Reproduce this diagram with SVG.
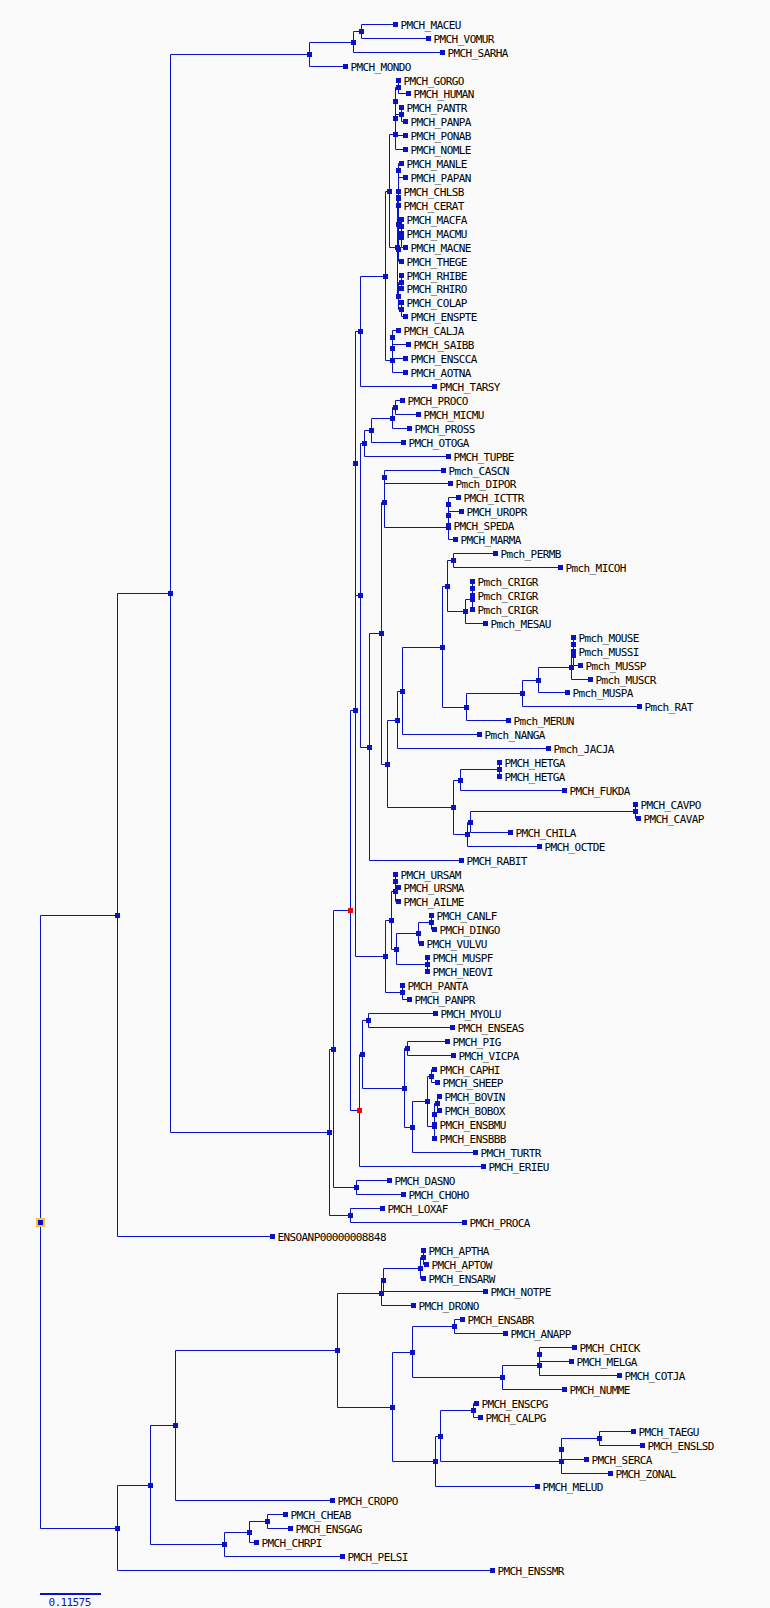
<svg xmlns="http://www.w3.org/2000/svg" xmlns:xlink="http://www.w3.org/1999/xlink" width="770" height="1608" viewBox="0 0 770 1608">
<style>
.c{fill:none;stroke:#0a12c8;stroke-width:1}
.t{font-family:"DejaVu Sans Mono","Liberation Mono",monospace;font-size:11px;letter-spacing:-0.6px;fill:#000}
.s{font-family:"DejaVu Sans Mono","Liberation Mono",monospace;font-size:11px;letter-spacing:-0.6px;fill:#0a12c8}
</style>
<defs>
<rect id="m" x="-2.5" y="-2.5" width="5" height="5" fill="#0a12c8"/>
<rect id="mr" x="-2.5" y="-2.5" width="5" height="5" fill="#ff0000"/>
</defs>
<rect x="0" y="0" width="770" height="1608" fill="#fafafa"/>
<g id="connectors" class="c">
<path d="M395.5 24.5H361.5V38.5H428.5M361.5 31.5H353.5V52.5H442.5M353.5 42.5H309.5V66.5H345.5"/>
<path d="M398.5 80.5V93.5H408.5M401.5 107.5V121.5H405.5M398.5 87.5H395.5V114.5H401.5M395.5 101.5V135.5H405.5M395.5 118.5V149.5H405.5"/>
<path d="M401.5 163.5H398.5V177.5H405.5M398.5 191.5V205.5M401.5 219.5V233.5M401.5 226.5V247.5H405.5M401.5 237.5H398.5V261.5H401.5M398.5 198.5V249.5M398.5 170.5V224.5"/>
<path d="M401.5 275.5V288.5M401.5 302.5V316.5H405.5M401.5 282.5H398.5V309.5H401.5M398.5 197.5H397.5V296.5H398.5M395.5 134.5H389.5V247.5H397.5"/>
<path d="M398.5 330.5H392.5V344.5H408.5M392.5 337.5V358.5H405.5M392.5 348.5V372.5H405.5M389.5 191.5H385.5V360.5H392.5M385.5 276.5H360.5V386.5H434.5"/>
<path d="M402.5 400.5H395.5V414.5H418.5M395.5 407.5H392.5V428.5H409.5M392.5 418.5H371.5V442.5H403.5M371.5 430.5H364.5V456.5H448.5"/>
<path d="M443.5 470.5H384.5V483.5H450.5M458.5 497.5H448.5V511.5H461.5M448.5 504.5V525.5M448.5 515.5V539.5H455.5M384.5 477.5V527.5H448.5"/>
<path d="M495.5 553.5H453.5V567.5H560.5M472.5 581.5V595.5M472.5 588.5V609.5M472.5 599.5H465.5V623.5H485.5M453.5 560.5H447.5V611.5H465.5"/>
<path d="M573.5 637.5V651.5M573.5 644.5V665.5H580.5M573.5 655.5H571.5V679.5H590.5M571.5 667.5H538.5V692.5H567.5M538.5 680.5H522.5V706.5H639.5M522.5 693.5H466.5V720.5H508.5"/>
<path d="M447.5 586.5H442.5V707.5H466.5M442.5 647.5H402.5V734.5H479.5M402.5 691.5H397.5V748.5H548.5"/>
<path d="M499.5 762.5V776.5M499.5 769.5H460.5V790.5H564.5M635.5 804.5V818.5H638.5M635.5 811.5H470.5V832.5H510.5M470.5 822.5H467.5V846.5H539.5M460.5 780.5H453.5V834.5H467.5"/>
<path d="M397.5 720.5H387.5V807.5H453.5M384.5 502.5H381.5V764.5H387.5M381.5 633.5H369.5V860.5H461.5M364.5 443.5H360.5V747.5H369.5M360.5 331.5H355.5V595.5H360.5"/>
<path d="M395.5 874.5V887.5H398.5M395.5 881.5V901.5H398.5M431.5 915.5V929.5H434.5M431.5 922.5H418.5V943.5H421.5M427.5 957.5V971.5M418.5 933.5H396.5V964.5H427.5M395.5 891.5H391.5V949.5H396.5M402.5 985.5V999.5H409.5M391.5 920.5H385.5V992.5H402.5M355.5 463.5V956.5H385.5"/>
<path d="M435.5 1013.5H368.5V1027.5H452.5M447.5 1041.5H407.5V1055.5H453.5M434.5 1069.5H431.5V1082.5H437.5M439.5 1096.5H437.5V1110.5H439.5M437.5 1103.5H434.5V1124.5M434.5 1114.5V1138.5M431.5 1076.5H427.5V1126.5H434.5M427.5 1101.5H412.5V1152.5H475.5M407.5 1048.5H404.5V1127.5H412.5M368.5 1020.5H362.5V1088.5H404.5M362.5 1054.5H359.5V1166.5H483.5M355.5 710.5H350.5V1110.5H359.5"/>
<path d="M389.5 1180.5H356.5V1194.5H403.5M350.5 910.5H333.5V1187.5H356.5M382.5 1208.5H350.5V1222.5H464.5M333.5 1049.5H329.5V1215.5H350.5M309.5 54.5H170.5V1132.5H329.5M170.5 593.5H117.5V1236.5H272.5"/>
<path d="M423.5 1250.5V1264.5H426.5M423.5 1257.5H420.5V1278.5H423.5M420.5 1268.5H383.5V1291.5H485.5M383.5 1280.5H381.5V1305.5H413.5"/>
<path d="M462.5 1319.5H454.5V1333.5H505.5M574.5 1347.5H539.5V1361.5H571.5M539.5 1354.5V1375.5H619.5M539.5 1365.5H502.5V1389.5H564.5M454.5 1326.5H412.5V1377.5H502.5"/>
<path d="M476.5 1403.5H473.5V1417.5H480.5M633.5 1431.5H599.5V1445.5H642.5M599.5 1438.5H561.5V1459.5H586.5M561.5 1449.5V1473.5H610.5M473.5 1410.5H440.5V1461.5H561.5M440.5 1436.5H435.5V1486.5H537.5M412.5 1352.5H392.5V1461.5H435.5M381.5 1293.5H337.5V1407.5H392.5M337.5 1350.5H175.5V1500.5H332.5"/>
<path d="M285.5 1514.5H267.5V1528.5H290.5M267.5 1521.5H249.5V1542.5H256.5M249.5 1532.5H224.5V1556.5H342.5M175.5 1425.5H150.5V1544.5H224.5M150.5 1485.5H117.5V1570.5H492.5M117.5 915.5H40.5V1528.5H117.5"/>
</g>
<g id="internal-nodes">
<g id="node-A"><use href="#m" x="361.5" y="31.5"/></g>
<g id="node-B"><use href="#m" x="353.5" y="42.5"/></g>
<g id="node-C"><use href="#m" x="309.5" y="54.5"/></g>
<g id="node-P1"><use href="#m" x="398.5" y="87.5"/></g>
<g id="node-P2"><use href="#m" x="401.5" y="114.5"/></g>
<g id="node-P3"><use href="#m" x="395.5" y="101.5"/></g>
<g id="node-P4"><use href="#m" x="395.5" y="118.5"/></g>
<g id="node-P5"><use href="#m" x="395.5" y="134.5"/></g>
<g id="node-n1"><use href="#m" x="398.5" y="170.5"/></g>
<g id="node-n2"><use href="#m" x="398.5" y="198.5"/></g>
<g id="node-n3"><use href="#m" x="401.5" y="226.5"/></g>
<g id="node-n4"><use href="#m" x="401.5" y="237.5"/></g>
<g id="node-n5"><use href="#m" x="398.5" y="249.5"/></g>
<g id="node-n6"><use href="#m" x="398.5" y="224.5"/></g>
<g id="node-n7"><use href="#m" x="398.5" y="197.5"/></g>
<g id="node-c1"><use href="#m" x="401.5" y="282.5"/></g>
<g id="node-c2"><use href="#m" x="401.5" y="309.5"/></g>
<g id="node-c3"><use href="#m" x="398.5" y="296.5"/></g>
<g id="node-owm"><use href="#m" x="397.5" y="247.5"/></g>
<g id="node-catarr"><use href="#m" x="389.5" y="191.5"/></g>
<g id="node-pl1"><use href="#m" x="392.5" y="337.5"/></g>
<g id="node-pl2"><use href="#m" x="392.5" y="348.5"/></g>
<g id="node-pl3"><use href="#m" x="392.5" y="360.5"/></g>
<g id="node-anth"><use href="#m" x="385.5" y="276.5"/></g>
<g id="node-hapl"><use href="#m" x="360.5" y="331.5"/></g>
<g id="node-s1"><use href="#m" x="395.5" y="407.5"/></g>
<g id="node-s2"><use href="#m" x="392.5" y="418.5"/></g>
<g id="node-s3"><use href="#m" x="371.5" y="430.5"/></g>
<g id="node-s4"><use href="#m" x="364.5" y="443.5"/></g>
<g id="node-r1"><use href="#m" x="384.5" y="477.5"/></g>
<g id="node-sq1"><use href="#m" x="448.5" y="504.5"/></g>
<g id="node-sq2"><use href="#m" x="448.5" y="515.5"/></g>
<g id="node-sq3"><use href="#m" x="448.5" y="527.5"/></g>
<g id="node-r2"><use href="#m" x="384.5" y="502.5"/></g>
<g id="node-m1"><use href="#m" x="453.5" y="560.5"/></g>
<g id="node-cr1"><use href="#m" x="472.5" y="588.5"/></g>
<g id="node-cr2"><use href="#m" x="472.5" y="599.5"/></g>
<g id="node-cr3"><use href="#m" x="465.5" y="611.5"/></g>
<g id="node-m2"><use href="#m" x="447.5" y="586.5"/></g>
<g id="node-mu1"><use href="#m" x="573.5" y="644.5"/></g>
<g id="node-mu2"><use href="#m" x="573.5" y="655.5"/></g>
<g id="node-mu3"><use href="#m" x="571.5" y="667.5"/></g>
<g id="node-mu4"><use href="#m" x="538.5" y="680.5"/></g>
<g id="node-mu5"><use href="#m" x="522.5" y="693.5"/></g>
<g id="node-mu6"><use href="#m" x="466.5" y="707.5"/></g>
<g id="node-m3"><use href="#m" x="442.5" y="647.5"/></g>
<g id="node-m4"><use href="#m" x="402.5" y="691.5"/></g>
<g id="node-m5"><use href="#m" x="397.5" y="720.5"/></g>
<g id="node-h1"><use href="#m" x="499.5" y="769.5"/></g>
<g id="node-h2"><use href="#m" x="460.5" y="780.5"/></g>
<g id="node-cv"><use href="#m" x="635.5" y="811.5"/></g>
<g id="node-h3"><use href="#m" x="470.5" y="822.5"/></g>
<g id="node-h4"><use href="#m" x="467.5" y="834.5"/></g>
<g id="node-h5"><use href="#m" x="453.5" y="807.5"/></g>
<g id="node-ro1"><use href="#m" x="387.5" y="764.5"/></g>
<g id="node-ro2"><use href="#m" x="381.5" y="633.5"/></g>
<g id="node-glires"><use href="#m" x="369.5" y="747.5"/></g>
<g id="node-euarch"><use href="#m" x="360.5" y="595.5"/></g>
<g id="node-eg"><use href="#m" x="355.5" y="463.5"/></g>
<g id="node-ca1"><use href="#m" x="395.5" y="881.5"/></g>
<g id="node-ca2"><use href="#m" x="395.5" y="891.5"/></g>
<g id="node-ca3"><use href="#m" x="431.5" y="922.5"/></g>
<g id="node-ca4"><use href="#m" x="418.5" y="933.5"/></g>
<g id="node-ca5"><use href="#m" x="427.5" y="964.5"/></g>
<g id="node-ca6"><use href="#m" x="396.5" y="949.5"/></g>
<g id="node-ca7"><use href="#m" x="391.5" y="920.5"/></g>
<g id="node-pa"><use href="#m" x="402.5" y="992.5"/></g>
<g id="node-ferae"><use href="#m" x="385.5" y="956.5"/></g>
<g id="node-E"><use href="#m" x="355.5" y="710.5"/></g>
<g id="node-l1"><use href="#m" x="368.5" y="1020.5"/></g>
<g id="node-l2"><use href="#m" x="407.5" y="1048.5"/></g>
<g id="node-b1"><use href="#m" x="431.5" y="1076.5"/></g>
<g id="node-b2"><use href="#m" x="437.5" y="1103.5"/></g>
<g id="node-b3"><use href="#m" x="434.5" y="1114.5"/></g>
<g id="node-b4"><use href="#m" x="434.5" y="1126.5"/></g>
<g id="node-b5"><use href="#m" x="427.5" y="1101.5"/></g>
<g id="node-ce"><use href="#m" x="412.5" y="1127.5"/></g>
<g id="node-l3"><use href="#m" x="404.5" y="1088.5"/></g>
<g id="node-l4"><use href="#m" x="362.5" y="1054.5"/></g>
<g id="node-R2"><use href="#mr" x="359.5" y="1110.5"/></g>
<g id="node-R1"><use href="#mr" x="350.5" y="910.5"/></g>
<g id="node-xe"><use href="#m" x="356.5" y="1187.5"/></g>
<g id="node-N"><use href="#m" x="333.5" y="1049.5"/></g>
<g id="node-af"><use href="#m" x="350.5" y="1215.5"/></g>
<g id="node-M"><use href="#m" x="329.5" y="1132.5"/></g>
<g id="node-Th"><use href="#m" x="170.5" y="593.5"/></g>
<g id="node-X"><use href="#m" x="117.5" y="915.5"/></g>
<g id="node-ap1"><use href="#m" x="423.5" y="1257.5"/></g>
<g id="node-ap2"><use href="#m" x="420.5" y="1268.5"/></g>
<g id="node-P"><use href="#m" x="383.5" y="1280.5"/></g>
<g id="node-Q"><use href="#m" x="381.5" y="1293.5"/></g>
<g id="node-an1"><use href="#m" x="454.5" y="1326.5"/></g>
<g id="node-g1"><use href="#m" x="539.5" y="1354.5"/></g>
<g id="node-g2"><use href="#m" x="539.5" y="1365.5"/></g>
<g id="node-g3"><use href="#m" x="502.5" y="1377.5"/></g>
<g id="node-ga"><use href="#m" x="412.5" y="1352.5"/></g>
<g id="node-ps1"><use href="#m" x="473.5" y="1410.5"/></g>
<g id="node-pa1"><use href="#m" x="599.5" y="1438.5"/></g>
<g id="node-pa2"><use href="#m" x="561.5" y="1449.5"/></g>
<g id="node-pa3"><use href="#m" x="561.5" y="1461.5"/></g>
<g id="node-ne1"><use href="#m" x="440.5" y="1436.5"/></g>
<g id="node-ne2"><use href="#m" x="435.5" y="1461.5"/></g>
<g id="node-nb"><use href="#m" x="392.5" y="1407.5"/></g>
<g id="node-neo"><use href="#m" x="337.5" y="1350.5"/></g>
<g id="node-av"><use href="#m" x="175.5" y="1425.5"/></g>
<g id="node-t1"><use href="#m" x="267.5" y="1521.5"/></g>
<g id="node-t2"><use href="#m" x="249.5" y="1532.5"/></g>
<g id="node-t3"><use href="#m" x="224.5" y="1544.5"/></g>
<g id="node-sa"><use href="#m" x="150.5" y="1485.5"/></g>
<g id="node-Y"><use href="#m" x="117.5" y="1528.5"/></g>
<g id="node-root"><rect x="36" y="1218" width="9" height="9" fill="#eec54a"/><use href="#m" x="40.5" y="1222.5"/></g>
</g>
<g id="leaves" class="t">
<g id="leaf00"><use href="#m" x="395.5" y="24.5"/><text x="400.5" y="29">PMCH_MACEU</text></g>
<g id="leaf01"><use href="#m" x="428.5" y="38.5"/><text x="433.5" y="43">PMCH_VOMUR</text></g>
<g id="leaf02"><use href="#m" x="442.5" y="52.5"/><text x="447.5" y="57">PMCH_SARHA</text></g>
<g id="leaf03"><use href="#m" x="345.5" y="66.5"/><text x="350.5" y="71">PMCH_MONDO</text></g>
<g id="leaf04"><use href="#m" x="398.5" y="80.5"/><text x="403.5" y="85">PMCH_GORGO</text></g>
<g id="leaf05"><use href="#m" x="408.5" y="93.5"/><text x="413.5" y="98">PMCH_HUMAN</text></g>
<g id="leaf06"><use href="#m" x="401.5" y="107.5"/><text x="406.5" y="112">PMCH_PANTR</text></g>
<g id="leaf07"><use href="#m" x="405.5" y="121.5"/><text x="410.5" y="126">PMCH_PANPA</text></g>
<g id="leaf08"><use href="#m" x="405.5" y="135.5"/><text x="410.5" y="140">PMCH_PONAB</text></g>
<g id="leaf09"><use href="#m" x="405.5" y="149.5"/><text x="410.5" y="154">PMCH_NOMLE</text></g>
<g id="leaf10"><use href="#m" x="401.5" y="163.5"/><text x="406.5" y="168">PMCH_MANLE</text></g>
<g id="leaf11"><use href="#m" x="405.5" y="177.5"/><text x="410.5" y="182">PMCH_PAPAN</text></g>
<g id="leaf12"><use href="#m" x="398.5" y="191.5"/><text x="403.5" y="196">PMCH_CHLSB</text></g>
<g id="leaf13"><use href="#m" x="398.5" y="205.5"/><text x="403.5" y="210">PMCH_CERAT</text></g>
<g id="leaf14"><use href="#m" x="401.5" y="219.5"/><text x="406.5" y="224">PMCH_MACFA</text></g>
<g id="leaf15"><use href="#m" x="401.5" y="233.5"/><text x="406.5" y="238">PMCH_MACMU</text></g>
<g id="leaf16"><use href="#m" x="405.5" y="247.5"/><text x="410.5" y="252">PMCH_MACNE</text></g>
<g id="leaf17"><use href="#m" x="401.5" y="261.5"/><text x="406.5" y="266">PMCH_THEGE</text></g>
<g id="leaf18"><use href="#m" x="401.5" y="275.5"/><text x="406.5" y="280">PMCH_RHIBE</text></g>
<g id="leaf19"><use href="#m" x="401.5" y="288.5"/><text x="406.5" y="293">PMCH_RHIRO</text></g>
<g id="leaf20"><use href="#m" x="401.5" y="302.5"/><text x="406.5" y="307">PMCH_COLAP</text></g>
<g id="leaf21"><use href="#m" x="405.5" y="316.5"/><text x="410.5" y="321">PMCH_ENSPTE</text></g>
<g id="leaf22"><use href="#m" x="398.5" y="330.5"/><text x="403.5" y="335">PMCH_CALJA</text></g>
<g id="leaf23"><use href="#m" x="408.5" y="344.5"/><text x="413.5" y="349">PMCH_SAIBB</text></g>
<g id="leaf24"><use href="#m" x="405.5" y="358.5"/><text x="410.5" y="363">PMCH_ENSCCA</text></g>
<g id="leaf25"><use href="#m" x="405.5" y="372.5"/><text x="410.5" y="377">PMCH_AOTNA</text></g>
<g id="leaf26"><use href="#m" x="434.5" y="386.5"/><text x="439.5" y="391">PMCH_TARSY</text></g>
<g id="leaf27"><use href="#m" x="402.5" y="400.5"/><text x="407.5" y="405">PMCH_PROCO</text></g>
<g id="leaf28"><use href="#m" x="418.5" y="414.5"/><text x="423.5" y="419">PMCH_MICMU</text></g>
<g id="leaf29"><use href="#m" x="409.5" y="428.5"/><text x="414.5" y="433">PMCH_PROSS</text></g>
<g id="leaf30"><use href="#m" x="403.5" y="442.5"/><text x="408.5" y="447">PMCH_OTOGA</text></g>
<g id="leaf31"><use href="#m" x="448.5" y="456.5"/><text x="453.5" y="461">PMCH_TUPBE</text></g>
<g id="leaf32"><use href="#m" x="443.5" y="470.5"/><text x="448.5" y="475">Pmch_CASCN</text></g>
<g id="leaf33"><use href="#m" x="450.5" y="483.5"/><text x="455.5" y="488">Pmch_DIPOR</text></g>
<g id="leaf34"><use href="#m" x="458.5" y="497.5"/><text x="463.5" y="502">PMCH_ICTTR</text></g>
<g id="leaf35"><use href="#m" x="461.5" y="511.5"/><text x="466.5" y="516">PMCH_UROPR</text></g>
<g id="leaf36"><use href="#m" x="448.5" y="525.5"/><text x="453.5" y="530">PMCH_SPEDA</text></g>
<g id="leaf37"><use href="#m" x="455.5" y="539.5"/><text x="460.5" y="544">PMCH_MARMA</text></g>
<g id="leaf38"><use href="#m" x="495.5" y="553.5"/><text x="500.5" y="558">Pmch_PERMB</text></g>
<g id="leaf39"><use href="#m" x="560.5" y="567.5"/><text x="565.5" y="572">Pmch_MICOH</text></g>
<g id="leaf40"><use href="#m" x="472.5" y="581.5"/><text x="477.5" y="586">Pmch_CRIGR</text></g>
<g id="leaf41"><use href="#m" x="472.5" y="595.5"/><text x="477.5" y="600">Pmch_CRIGR</text></g>
<g id="leaf42"><use href="#m" x="472.5" y="609.5"/><text x="477.5" y="614">Pmch_CRIGR</text></g>
<g id="leaf43"><use href="#m" x="485.5" y="623.5"/><text x="490.5" y="628">Pmch_MESAU</text></g>
<g id="leaf44"><use href="#m" x="573.5" y="637.5"/><text x="578.5" y="642">Pmch_MOUSE</text></g>
<g id="leaf45"><use href="#m" x="573.5" y="651.5"/><text x="578.5" y="656">Pmch_MUSSI</text></g>
<g id="leaf46"><use href="#m" x="580.5" y="665.5"/><text x="585.5" y="670">Pmch_MUSSP</text></g>
<g id="leaf47"><use href="#m" x="590.5" y="679.5"/><text x="595.5" y="684">Pmch_MUSCR</text></g>
<g id="leaf48"><use href="#m" x="567.5" y="692.5"/><text x="572.5" y="697">Pmch_MUSPA</text></g>
<g id="leaf49"><use href="#m" x="639.5" y="706.5"/><text x="644.5" y="711">Pmch_RAT</text></g>
<g id="leaf50"><use href="#m" x="508.5" y="720.5"/><text x="513.5" y="725">Pmch_MERUN</text></g>
<g id="leaf51"><use href="#m" x="479.5" y="734.5"/><text x="484.5" y="739">Pmch_NANGA</text></g>
<g id="leaf52"><use href="#m" x="548.5" y="748.5"/><text x="553.5" y="753">Pmch_JACJA</text></g>
<g id="leaf53"><use href="#m" x="499.5" y="762.5"/><text x="504.5" y="767">PMCH_HETGA</text></g>
<g id="leaf54"><use href="#m" x="499.5" y="776.5"/><text x="504.5" y="781">PMCH_HETGA</text></g>
<g id="leaf55"><use href="#m" x="564.5" y="790.5"/><text x="569.5" y="795">PMCH_FUKDA</text></g>
<g id="leaf56"><use href="#m" x="635.5" y="804.5"/><text x="640.5" y="809">PMCH_CAVPO</text></g>
<g id="leaf57"><use href="#m" x="638.5" y="818.5"/><text x="643.5" y="823">PMCH_CAVAP</text></g>
<g id="leaf58"><use href="#m" x="510.5" y="832.5"/><text x="515.5" y="837">PMCH_CHILA</text></g>
<g id="leaf59"><use href="#m" x="539.5" y="846.5"/><text x="544.5" y="851">PMCH_OCTDE</text></g>
<g id="leaf60"><use href="#m" x="461.5" y="860.5"/><text x="466.5" y="865">PMCH_RABIT</text></g>
<g id="leaf61"><use href="#m" x="395.5" y="874.5"/><text x="400.5" y="879">PMCH_URSAM</text></g>
<g id="leaf62"><use href="#m" x="398.5" y="887.5"/><text x="403.5" y="892">PMCH_URSMA</text></g>
<g id="leaf63"><use href="#m" x="398.5" y="901.5"/><text x="403.5" y="906">PMCH_AILME</text></g>
<g id="leaf64"><use href="#m" x="431.5" y="915.5"/><text x="436.5" y="920">PMCH_CANLF</text></g>
<g id="leaf65"><use href="#m" x="434.5" y="929.5"/><text x="439.5" y="934">PMCH_DINGO</text></g>
<g id="leaf66"><use href="#m" x="421.5" y="943.5"/><text x="426.5" y="948">PMCH_VULVU</text></g>
<g id="leaf67"><use href="#m" x="427.5" y="957.5"/><text x="432.5" y="962">PMCH_MUSPF</text></g>
<g id="leaf68"><use href="#m" x="427.5" y="971.5"/><text x="432.5" y="976">PMCH_NEOVI</text></g>
<g id="leaf69"><use href="#m" x="402.5" y="985.5"/><text x="407.5" y="990">PMCH_PANTA</text></g>
<g id="leaf70"><use href="#m" x="409.5" y="999.5"/><text x="414.5" y="1004">PMCH_PANPR</text></g>
<g id="leaf71"><use href="#m" x="435.5" y="1013.5"/><text x="440.5" y="1018">PMCH_MYOLU</text></g>
<g id="leaf72"><use href="#m" x="452.5" y="1027.5"/><text x="457.5" y="1032">PMCH_ENSEAS</text></g>
<g id="leaf73"><use href="#m" x="447.5" y="1041.5"/><text x="452.5" y="1046">PMCH_PIG</text></g>
<g id="leaf74"><use href="#m" x="453.5" y="1055.5"/><text x="458.5" y="1060">PMCH_VICPA</text></g>
<g id="leaf75"><use href="#m" x="434.5" y="1069.5"/><text x="439.5" y="1074">PMCH_CAPHI</text></g>
<g id="leaf76"><use href="#m" x="437.5" y="1082.5"/><text x="442.5" y="1087">PMCH_SHEEP</text></g>
<g id="leaf77"><use href="#m" x="439.5" y="1096.5"/><text x="444.5" y="1101">PMCH_BOVIN</text></g>
<g id="leaf78"><use href="#m" x="439.5" y="1110.5"/><text x="444.5" y="1115">PMCH_BOBOX</text></g>
<g id="leaf79"><use href="#m" x="434.5" y="1124.5"/><text x="439.5" y="1129">PMCH_ENSBMU</text></g>
<g id="leaf80"><use href="#m" x="434.5" y="1138.5"/><text x="439.5" y="1143">PMCH_ENSBBB</text></g>
<g id="leaf81"><use href="#m" x="475.5" y="1152.5"/><text x="480.5" y="1157">PMCH_TURTR</text></g>
<g id="leaf82"><use href="#m" x="483.5" y="1166.5"/><text x="488.5" y="1171">PMCH_ERIEU</text></g>
<g id="leaf83"><use href="#m" x="389.5" y="1180.5"/><text x="394.5" y="1185">PMCH_DASNO</text></g>
<g id="leaf84"><use href="#m" x="403.5" y="1194.5"/><text x="408.5" y="1199">PMCH_CHOHO</text></g>
<g id="leaf85"><use href="#m" x="382.5" y="1208.5"/><text x="387.5" y="1213">PMCH_LOXAF</text></g>
<g id="leaf86"><use href="#m" x="464.5" y="1222.5"/><text x="469.5" y="1227">PMCH_PROCA</text></g>
<g id="leaf87"><use href="#m" x="272.5" y="1236.5"/><text x="277.5" y="1241">ENSOANP00000008848</text></g>
<g id="leaf88"><use href="#m" x="423.5" y="1250.5"/><text x="428.5" y="1255">PMCH_APTHA</text></g>
<g id="leaf89"><use href="#m" x="426.5" y="1264.5"/><text x="431.5" y="1269">PMCH_APTOW</text></g>
<g id="leaf90"><use href="#m" x="423.5" y="1278.5"/><text x="428.5" y="1283">PMCH_ENSARW</text></g>
<g id="leaf91"><use href="#m" x="485.5" y="1291.5"/><text x="490.5" y="1296">PMCH_NOTPE</text></g>
<g id="leaf92"><use href="#m" x="413.5" y="1305.5"/><text x="418.5" y="1310">PMCH_DRONO</text></g>
<g id="leaf93"><use href="#m" x="462.5" y="1319.5"/><text x="467.5" y="1324">PMCH_ENSABR</text></g>
<g id="leaf94"><use href="#m" x="505.5" y="1333.5"/><text x="510.5" y="1338">PMCH_ANAPP</text></g>
<g id="leaf95"><use href="#m" x="574.5" y="1347.5"/><text x="579.5" y="1352">PMCH_CHICK</text></g>
<g id="leaf96"><use href="#m" x="571.5" y="1361.5"/><text x="576.5" y="1366">PMCH_MELGA</text></g>
<g id="leaf97"><use href="#m" x="619.5" y="1375.5"/><text x="624.5" y="1380">PMCH_COTJA</text></g>
<g id="leaf98"><use href="#m" x="564.5" y="1389.5"/><text x="569.5" y="1394">PMCH_NUMME</text></g>
<g id="leaf99"><use href="#m" x="476.5" y="1403.5"/><text x="481.5" y="1408">PMCH_ENSCPG</text></g>
<g id="leaf100"><use href="#m" x="480.5" y="1417.5"/><text x="485.5" y="1422">PMCH_CALPG</text></g>
<g id="leaf101"><use href="#m" x="633.5" y="1431.5"/><text x="638.5" y="1436">PMCH_TAEGU</text></g>
<g id="leaf102"><use href="#m" x="642.5" y="1445.5"/><text x="647.5" y="1450">PMCH_ENSLSD</text></g>
<g id="leaf103"><use href="#m" x="586.5" y="1459.5"/><text x="591.5" y="1464">PMCH_SERCA</text></g>
<g id="leaf104"><use href="#m" x="610.5" y="1473.5"/><text x="615.5" y="1478">PMCH_ZONAL</text></g>
<g id="leaf105"><use href="#m" x="537.5" y="1486.5"/><text x="542.5" y="1491">PMCH_MELUD</text></g>
<g id="leaf106"><use href="#m" x="332.5" y="1500.5"/><text x="337.5" y="1505">PMCH_CROPO</text></g>
<g id="leaf107"><use href="#m" x="285.5" y="1514.5"/><text x="290.5" y="1519">PMCH_CHEAB</text></g>
<g id="leaf108"><use href="#m" x="290.5" y="1528.5"/><text x="295.5" y="1533">PMCH_ENSGAG</text></g>
<g id="leaf109"><use href="#m" x="256.5" y="1542.5"/><text x="261.5" y="1547">PMCH_CHRPI</text></g>
<g id="leaf110"><use href="#m" x="342.5" y="1556.5"/><text x="347.5" y="1561">PMCH_PELSI</text></g>
<g id="leaf111"><use href="#m" x="492.5" y="1570.5"/><text x="497.5" y="1575">PMCH_ENSSMR</text></g>
</g>
<g id="scale-bar">
<rect x="40" y="1593" width="61" height="2" fill="#0a12c8"/>
<text class="s" x="48.5" y="1606">0.11575</text>
</g>
</svg>
